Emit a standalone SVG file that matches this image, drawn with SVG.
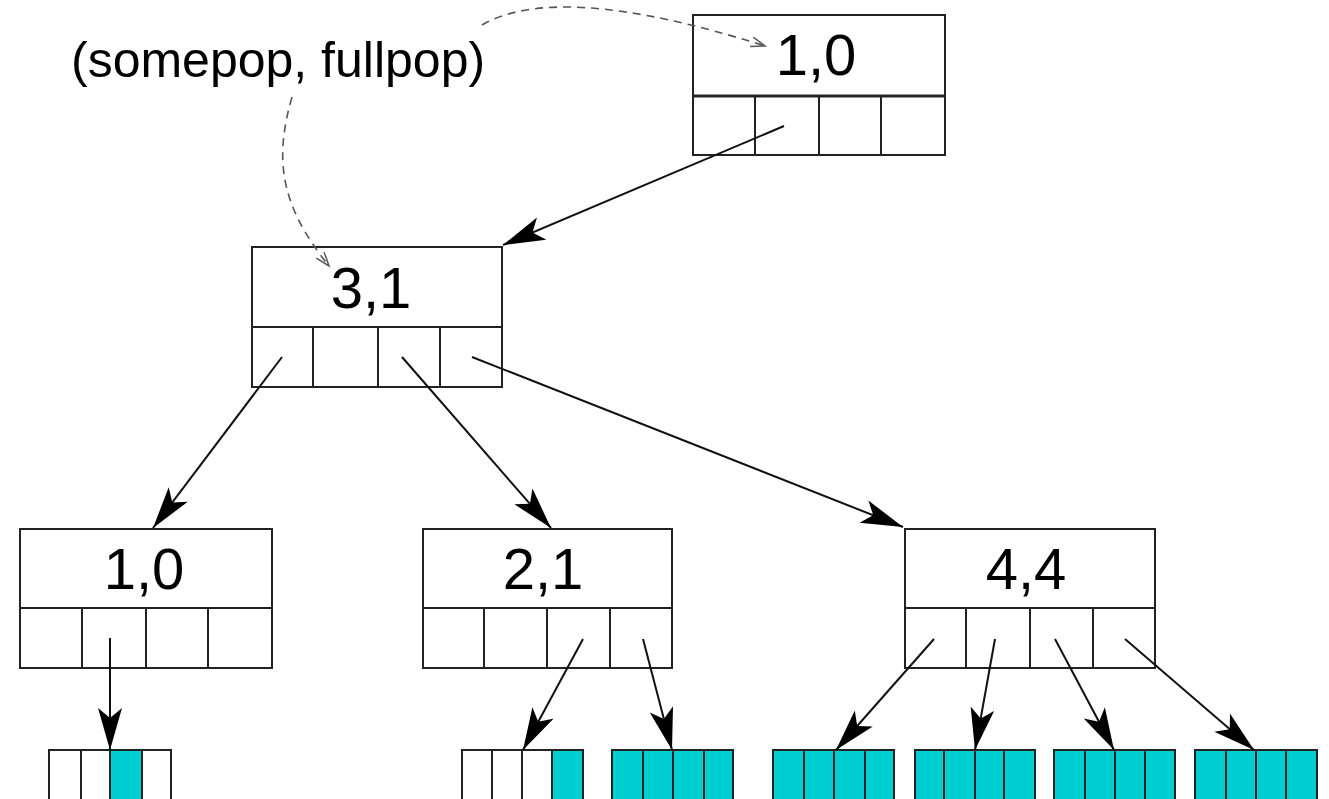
<svg xmlns="http://www.w3.org/2000/svg" width="1329" height="799" viewBox="0 0 1329 799">
<style>
.box{fill:#fff;stroke:#222;stroke-width:2}
.ln{stroke:#222;stroke-width:2}
.leaf{fill:#fff;stroke:#222;stroke-width:2}
.full{fill:#00CED1;stroke:#222;stroke-width:2}
.num{font-family:"Liberation Sans",Arial,sans-serif;font-size:58px;fill:#000;text-anchor:middle}
.lbl{font-family:"Liberation Sans",Arial,sans-serif;font-size:50px;fill:#000}
.arr{stroke:#111;stroke-width:2;fill:none;marker-end:url(#ah)}
.dash{stroke:#555;stroke-width:1.6;fill:none;stroke-dasharray:8 6;marker-end:url(#oh)}
</style>
<defs>
<marker id="ah" markerWidth="44" markerHeight="26" refX="42" refY="12" orient="auto" markerUnits="userSpaceOnUse">
<path d="M0,0 L42,12 L0,24 L10,12 z" fill="#000"/>
</marker>
<marker id="oh" markerWidth="18" markerHeight="12" refX="15" refY="5" orient="auto" markerUnits="userSpaceOnUse">
<path d="M1,0 L15,5 L1,10" fill="none" stroke="#555" stroke-width="1.5"/>
</marker>
</defs>
<rect width="1329" height="799" fill="#fff"/>

<g id="label">
<text class="lbl" x="71" y="77">(somepop, fullpop)</text>
</g>

<g id="node-top">
<rect class="box" x="693" y="15" width="252" height="140"/>
<line class="ln" x1="693" y1="96" x2="945" y2="96" style="stroke-width:3"/>
<line class="ln" x1="755" y1="96" x2="755" y2="155"/>
<line class="ln" x1="819" y1="96" x2="819" y2="155"/>
<line class="ln" x1="881" y1="96" x2="881" y2="155"/>
<text class="num" x="816" y="75">1,0</text>
</g>

<g id="node-31">
<rect class="box" x="252" y="247" width="250" height="140"/>
<line class="ln" x1="252" y1="327" x2="502" y2="327"/>
<line class="ln" x1="313" y1="327" x2="313" y2="387"/>
<line class="ln" x1="378" y1="327" x2="378" y2="387"/>
<line class="ln" x1="440" y1="327" x2="440" y2="387"/>
<text class="num" x="371" y="308">3,1</text>
</g>

<g id="node-10">
<rect class="box" x="20" y="529" width="252" height="139"/>
<line class="ln" x1="20" y1="608" x2="272" y2="608"/>
<line class="ln" x1="82" y1="608" x2="82" y2="668"/>
<line class="ln" x1="146" y1="608" x2="146" y2="668"/>
<line class="ln" x1="208" y1="608" x2="208" y2="668"/>
<text class="num" x="144" y="589">1,0</text>
</g>

<g id="node-21">
<rect class="box" x="423" y="529" width="249" height="139"/>
<line class="ln" x1="423" y1="608" x2="672" y2="608"/>
<line class="ln" x1="484" y1="608" x2="484" y2="668"/>
<line class="ln" x1="547" y1="608" x2="547" y2="668"/>
<line class="ln" x1="610" y1="608" x2="610" y2="668"/>
<text class="num" x="543" y="589">2,1</text>
</g>

<g id="node-44">
<rect class="box" x="905" y="529" width="250" height="139"/>
<line class="ln" x1="905" y1="608" x2="1155" y2="608"/>
<line class="ln" x1="966" y1="608" x2="966" y2="668"/>
<line class="ln" x1="1030" y1="608" x2="1030" y2="668"/>
<line class="ln" x1="1093" y1="608" x2="1093" y2="668"/>
<text class="num" x="1026" y="589">4,4</text>
</g>

<g id="leaf-1">
<rect class="leaf" x="49" y="750" width="32" height="60"/>
<rect class="leaf" x="81" y="750" width="29" height="60"/>
<rect class="full" x="110" y="750" width="32" height="60"/>
<rect class="leaf" x="142" y="750" width="29" height="60"/>
</g>

<g id="leaf-2">
<rect class="leaf" x="462" y="750" width="30" height="60"/>
<rect class="leaf" x="492" y="750" width="30" height="60"/>
<rect class="leaf" x="522" y="750" width="30" height="60"/>
<rect class="full" x="552" y="750" width="31" height="60"/>
</g>

<g id="leaf-3">
<rect class="full" x="612" y="750" width="31" height="60"/>
<rect class="full" x="643" y="750" width="30" height="60"/>
<rect class="full" x="673" y="750" width="31" height="60"/>
<rect class="full" x="704" y="750" width="29" height="60"/>
</g>

<g id="leaf-4">
<rect class="full" x="773" y="750" width="31" height="60"/>
<rect class="full" x="804" y="750" width="30" height="60"/>
<rect class="full" x="834" y="750" width="31" height="60"/>
<rect class="full" x="865" y="750" width="29" height="60"/>
</g>

<g id="leaf-5">
<rect class="full" x="915" y="750" width="29" height="60"/>
<rect class="full" x="944" y="750" width="31" height="60"/>
<rect class="full" x="975" y="750" width="29" height="60"/>
<rect class="full" x="1004" y="750" width="31" height="60"/>
</g>

<g id="leaf-6">
<rect class="full" x="1054" y="750" width="31" height="60"/>
<rect class="full" x="1085" y="750" width="30" height="60"/>
<rect class="full" x="1115" y="750" width="30" height="60"/>
<rect class="full" x="1145" y="750" width="30" height="60"/>
</g>

<g id="leaf-7">
<rect class="full" x="1195" y="750" width="31" height="60"/>
<rect class="full" x="1226" y="750" width="30" height="60"/>
<rect class="full" x="1256" y="750" width="30" height="60"/>
<rect class="full" x="1286" y="750" width="31" height="60"/>
</g>

<g id="connectors">
<path class="dash" d="M482,25 C530,-3 620,0 765,46"/>
<path class="dash" d="M292,97 C274,160 280,205 329,266"/>
<line class="arr" x1="784" y1="126" x2="503" y2="245"/>
<line class="arr" x1="282" y1="357" x2="153" y2="528"/>
<line class="arr" x1="402" y1="357" x2="551" y2="528"/>
<line class="arr" x1="472" y1="357" x2="903" y2="527"/>
<line class="arr" x1="110" y1="638" x2="110" y2="750"/>
<line class="arr" x1="583" y1="639" x2="523" y2="750"/>
<line class="arr" x1="643" y1="639" x2="672" y2="750"/>
<line class="arr" x1="934" y1="639" x2="836" y2="750"/>
<line class="arr" x1="995" y1="639" x2="975" y2="750"/>
<line class="arr" x1="1055" y1="639" x2="1114" y2="750"/>
<line class="arr" x1="1125" y1="639" x2="1254" y2="750"/>
</g>
</svg>
